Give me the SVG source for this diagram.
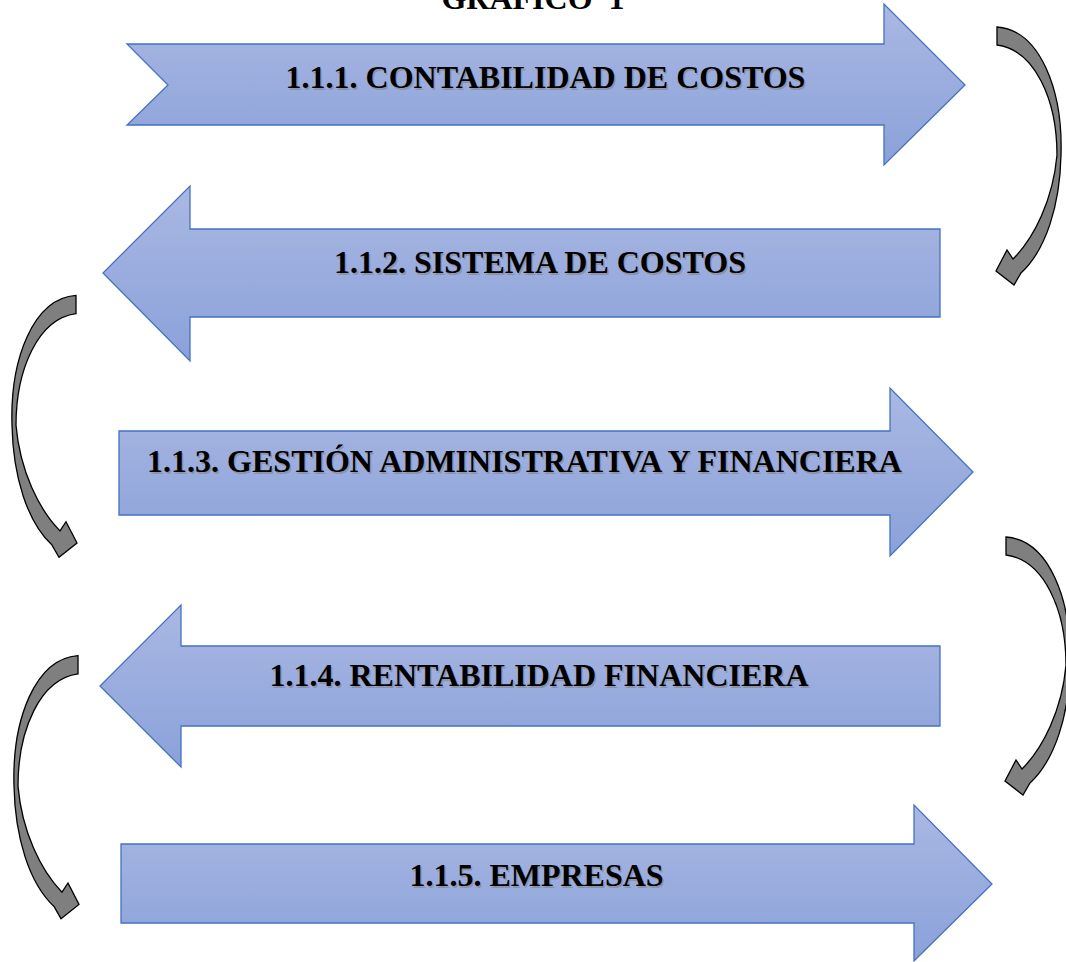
<svg xmlns="http://www.w3.org/2000/svg" width="1066" height="962" viewBox="0 0 1066 962">
<style>
.box{fill:url(#g);stroke:#4472c4;stroke-width:1.3;stroke-linejoin:miter}
.lbl{font-family:"Liberation Serif","Times New Roman",serif;font-weight:bold;font-size:32px;text-anchor:middle;fill:#000}
.sh{font-family:"Liberation Serif","Times New Roman",serif;font-weight:bold;font-size:32px;text-anchor:middle;fill:#808080;opacity:0.55}
.curve{fill:#7f7f7f;stroke:#000;stroke-width:1.3;stroke-linejoin:miter}
</style>
<defs>
<linearGradient id="g" x1="0" y1="0" x2="0" y2="1">
<stop offset="0" stop-color="#aab8e3"/>
<stop offset="1" stop-color="#8aa1d9"/>
</linearGradient>
<path id="ca" d="M997 27 C1040 30 1063 90 1061 155 C1060 205 1046 250 1021 273 L1014 285 L996 271 L1007 250 L1013 259 C1034 238 1053 200 1057 155 C1057 100 1035 50 997 45 Z"/>
</defs>
<rect width="1066" height="962" fill="#fff"/>
<text x="533" y="9" class="lbl" xml:space="preserve">GRAFICO  1</text>

<g id="connectors">
<use href="#ca" class="curve"/>
<use href="#ca" class="curve" transform="translate(1073,268) scale(-1,1.015)"/>
<use href="#ca" class="curve" transform="translate(9,510)"/>
<use href="#ca" class="curve" transform="translate(1075,628) scale(-1,1.02)"/>
</g>

<g id="n1">
<path class="box" d="M127 44 L884 44 L884 4 L965 85 L884 165 L884 125 L127 125 L168 85 Z"/>
<text x="547" y="90" class="sh">1.1.1. CONTABILIDAD DE COSTOS</text>
<text x="545.5" y="88" class="lbl">1.1.1. CONTABILIDAD DE COSTOS</text>
</g>
<g id="n2">
<path class="box" d="M940 229 L190 229 L190 186 L103 273 L190 361 L190 317 L940 317 Z"/>
<text x="541.5" y="275" class="sh">1.1.2. SISTEMA DE COSTOS</text>
<text x="540" y="273" class="lbl">1.1.2. SISTEMA DE COSTOS</text>
</g>
<g id="n3">
<path class="box" d="M119 431 L890 431 L890 388 L973 472 L890 556 L890 515 L119 515 Z"/>
<text x="526" y="474" class="sh">1.1.3. GESTIÓN ADMINISTRATIVA Y FINANCIERA</text>
<text x="524.5" y="472" class="lbl">1.1.3. GESTIÓN ADMINISTRATIVA Y FINANCIERA</text>
</g>
<g id="n4">
<path class="box" d="M940 646 L181 646 L181 605 L100 686 L181 767 L181 726 L940 726 Z"/>
<text x="540.5" y="688" class="sh">1.1.4. RENTABILIDAD FINANCIERA</text>
<text x="539" y="686" class="lbl">1.1.4. RENTABILIDAD FINANCIERA</text>
</g>
<g id="n5">
<path class="box" d="M121 844 L914 844 L914 805 L992 884 L914 961 L914 923 L121 923 Z"/>
<text x="538" y="888" class="sh">1.1.5. EMPRESAS</text>
<text x="536.5" y="886" class="lbl">1.1.5. EMPRESAS</text>
</g>
</svg>
